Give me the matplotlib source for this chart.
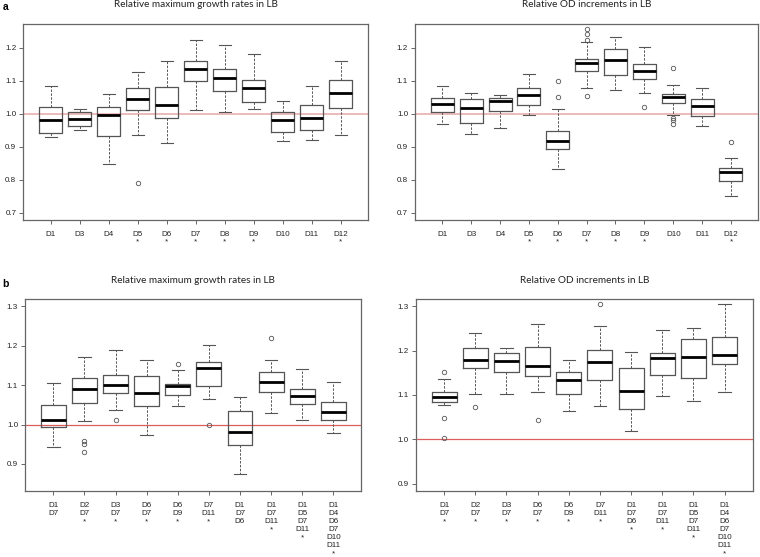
import matplotlib
matplotlib.use("Agg")
import matplotlib.pyplot as plt

# panel a, left: relative maximum growth rates (single deletions)
a_labels = ["D1", "D3", "D4", "D5", "D6", "D7", "D8", "D9", "D10", "D11", "D12"]
a_sig = [0, 0, 0, 1, 1, 1, 1, 1, 0, 0, 1]
a_gr_whislo = [0.930, 0.951, 0.848, 0.936, 0.911, 1.011, 1.005, 1.014, 0.918, 0.920, 0.936]
a_gr_q1 = [0.942, 0.962, 0.934, 1.011, 0.987, 1.099, 1.069, 1.035, 0.946, 0.951, 1.017]
a_gr_med = [0.982, 0.985, 0.995, 1.044, 1.027, 1.136, 1.107, 1.077, 0.980, 0.986, 1.062]
a_gr_q3 = [1.022, 1.005, 1.020, 1.077, 1.080, 1.159, 1.135, 1.103, 1.004, 1.026, 1.102]
a_gr_whishi = [1.083, 1.013, 1.059, 1.126, 1.159, 1.223, 1.209, 1.180, 1.040, 1.083, 1.159]
a_gr_fliers = [[], [], [], [0.790], [], [], [], [], [], [], []]

# panel a, right: relative OD increments
a_od_whislo = [0.968, 0.938, 0.958, 0.996, 0.833, 1.078, 1.073, 1.062, 0.996, 0.963, 0.752]
a_od_q1 = [1.004, 0.973, 1.009, 1.027, 0.893, 1.130, 1.118, 1.106, 1.033, 0.994, 0.797]
a_od_med = [1.031, 1.017, 1.040, 1.056, 0.916, 1.155, 1.164, 1.130, 1.052, 1.024, 0.822]
a_od_q3 = [1.049, 1.046, 1.049, 1.077, 0.947, 1.167, 1.195, 1.151, 1.061, 1.044, 0.837]
a_od_whishi = [1.083, 1.064, 1.056, 1.119, 1.014, 1.216, 1.232, 1.202, 1.087, 1.077, 0.865]
a_od_fliers = [[], [], [], [], [1.100, 1.052], [1.256, 1.241, 1.224, 1.055], [],
               [1.022], [1.138, 0.987, 0.980, 0.970], [], [0.914]]

# panel b: combined deletions
b_labels = ["D1\nD7", "D2\nD7", "D3\nD7", "D6\nD7", "D6\nD9", "D7\nD11",
            "D1\nD7\nD6", "D1\nD7\nD11", "D1\nD5\nD7\nD11", "D1\nD4\nD6\nD7\nD10\nD11"]
b_gr_sig = [0, 1, 1, 1, 1, 1, 0, 1, 1, 1]
b_gr_whislo = [0.942, 1.010, 1.037, 0.973, 1.048, 1.065, 0.875, 1.029, 1.012, 0.978]
b_gr_q1 = [0.993, 1.054, 1.080, 1.047, 1.075, 1.098, 0.947, 1.082, 1.052, 1.011]
b_gr_med = [1.011, 1.090, 1.101, 1.080, 1.097, 1.143, 0.982, 1.108, 1.073, 1.033]
b_gr_q3 = [1.050, 1.118, 1.125, 1.122, 1.104, 1.158, 1.035, 1.133, 1.090, 1.057]
b_gr_whishi = [1.105, 1.172, 1.188, 1.164, 1.139, 1.202, 1.071, 1.165, 1.141, 1.108]
b_gr_fliers = [[], [0.958, 0.950, 0.931], [1.012], [], [1.153], [0.998], [], [1.219], [], []]

b_od_sig = [1, 1, 1, 1, 1, 1, 1, 1, 1, 1]
b_od_whislo = [1.077, 1.102, 1.103, 1.106, 1.063, 1.076, 1.019, 1.097, 1.087, 1.106]
b_od_q1 = [1.085, 1.161, 1.152, 1.143, 1.102, 1.134, 1.068, 1.144, 1.139, 1.170]
b_od_med = [1.096, 1.180, 1.177, 1.166, 1.133, 1.175, 1.110, 1.184, 1.185, 1.191]
b_od_q3 = [1.106, 1.205, 1.194, 1.208, 1.151, 1.201, 1.161, 1.194, 1.226, 1.231]
b_od_whishi = [1.136, 1.240, 1.207, 1.260, 1.179, 1.255, 1.197, 1.246, 1.251, 1.305]
b_od_fliers = [[1.152, 1.047, 1.004], [1.073], [], [1.044], [], [1.305], [], [], [], []]

EDGE = "#555555"


def r_pad(lo, hi):
    pad = 0.04 * (hi - lo)
    return lo - pad, hi + pad


def draw_panel(ax, labels, sig, whislo, q1, med, q3, whishi, fliers, ylim, yticks, title,
               ref_color, ref_lw, linespacing):
    stats = []
    for i in range(len(labels)):
        stats.append({"whislo": whislo[i], "q1": q1[i], "med": med[i], "q3": q3[i],
                      "whishi": whishi[i], "fliers": fliers[i]})
    n = len(stats)
    ax.axhline(1.0, color=ref_color, lw=ref_lw, zorder=1)
    ax.bxp(stats, positions=range(1, n + 1), widths=0.8, showfliers=True, patch_artist=False,
           boxprops=dict(color=EDGE, lw=0.9),
           medianprops=dict(color="black", lw=2.0),
           whiskerprops=dict(color=EDGE, lw=0.7, ls=(0, (2.5, 1.5))),
           capprops=dict(color=EDGE, lw=0.8),
           flierprops=dict(marker="o", markersize=3.2, markerfacecolor="none",
                           markeredgecolor=EDGE, markeredgewidth=0.6))
    ax.set_xlim(*r_pad(0.5, n + 0.5))
    ax.set_ylim(*r_pad(*ylim))
    ax.set_yticks(yticks)
    ax.set_yticklabels([f"{t:.1f}" for t in yticks])
    ax.set_xticks(range(1, n + 1))
    ax.set_xticklabels([lab + ("\n*" if s else "") for lab, s in zip(labels, sig)],
                       linespacing=linespacing, va="top")
    for sp in ax.spines.values():
        sp.set_color("#666666")
        sp.set_linewidth(0.9)
    ax.tick_params(axis="both", length=3.2, width=0.7, color="#666666", labelsize=5.8,
                   labelcolor="#222222", pad=2)
    ax.tick_params(axis="x", pad=5)
    for t in ax.get_xticklabels() + ax.get_yticklabels():
        t.set_family(["Liberation Sans", "DejaVu Sans"])
    ax.set_title(title, fontsize=7.2, family=["Lato", "DejaVu Sans"], color="#222222", pad=12)


fig = plt.figure(figsize=(7.6, 5.57), dpi=100)
ax1 = fig.add_axes([0.0309, 0.6050, 0.4533, 0.3519])
ax2 = fig.add_axes([0.5464, 0.6050, 0.4510, 0.3519])
ax3 = fig.add_axes([0.0333, 0.1190, 0.4421, 0.3437])
ax4 = fig.add_axes([0.5474, 0.1190, 0.4430, 0.3437])

draw_panel(ax1, a_labels, a_sig, a_gr_whislo, a_gr_q1, a_gr_med, a_gr_q3, a_gr_whishi, a_gr_fliers,
           (0.7, 1.25), [0.7, 0.8, 0.9, 1.0, 1.1, 1.2], "Relative maximum growth rates in LB",
           "#eab4b4", 1.3, 1.05)
draw_panel(ax2, a_labels, a_sig, a_od_whislo, a_od_q1, a_od_med, a_od_q3, a_od_whishi, a_od_fliers,
           (0.7, 1.25), [0.7, 0.8, 0.9, 1.0, 1.1, 1.2], "Relative OD increments in LB",
           "#eab4b4", 1.3, 1.05)
draw_panel(ax3, b_labels, b_gr_sig, b_gr_whislo, b_gr_q1, b_gr_med, b_gr_q3, b_gr_whishi, b_gr_fliers,
           (0.85, 1.3), [0.9, 1.0, 1.1, 1.2, 1.3], "Relative maximum growth rates in LB",
           "#dd5c5c", 0.9, 1.2)
draw_panel(ax4, b_labels, b_od_sig, b_od_whislo, b_od_q1, b_od_med, b_od_q3, b_od_whishi, b_od_fliers,
           (0.9, 1.3), [0.9, 1.0, 1.1, 1.2, 1.3], "Relative OD increments in LB",
           "#dd5c5c", 0.9, 1.2)

fig.text(0.003, 0.997, "a", fontsize=7.5, fontweight="bold", family=["Liberation Sans"], va="top")
fig.text(0.003, 0.499, "b", fontsize=7.5, fontweight="bold", family=["Liberation Sans"], va="top")

fig.savefig("out.png", dpi=100)
